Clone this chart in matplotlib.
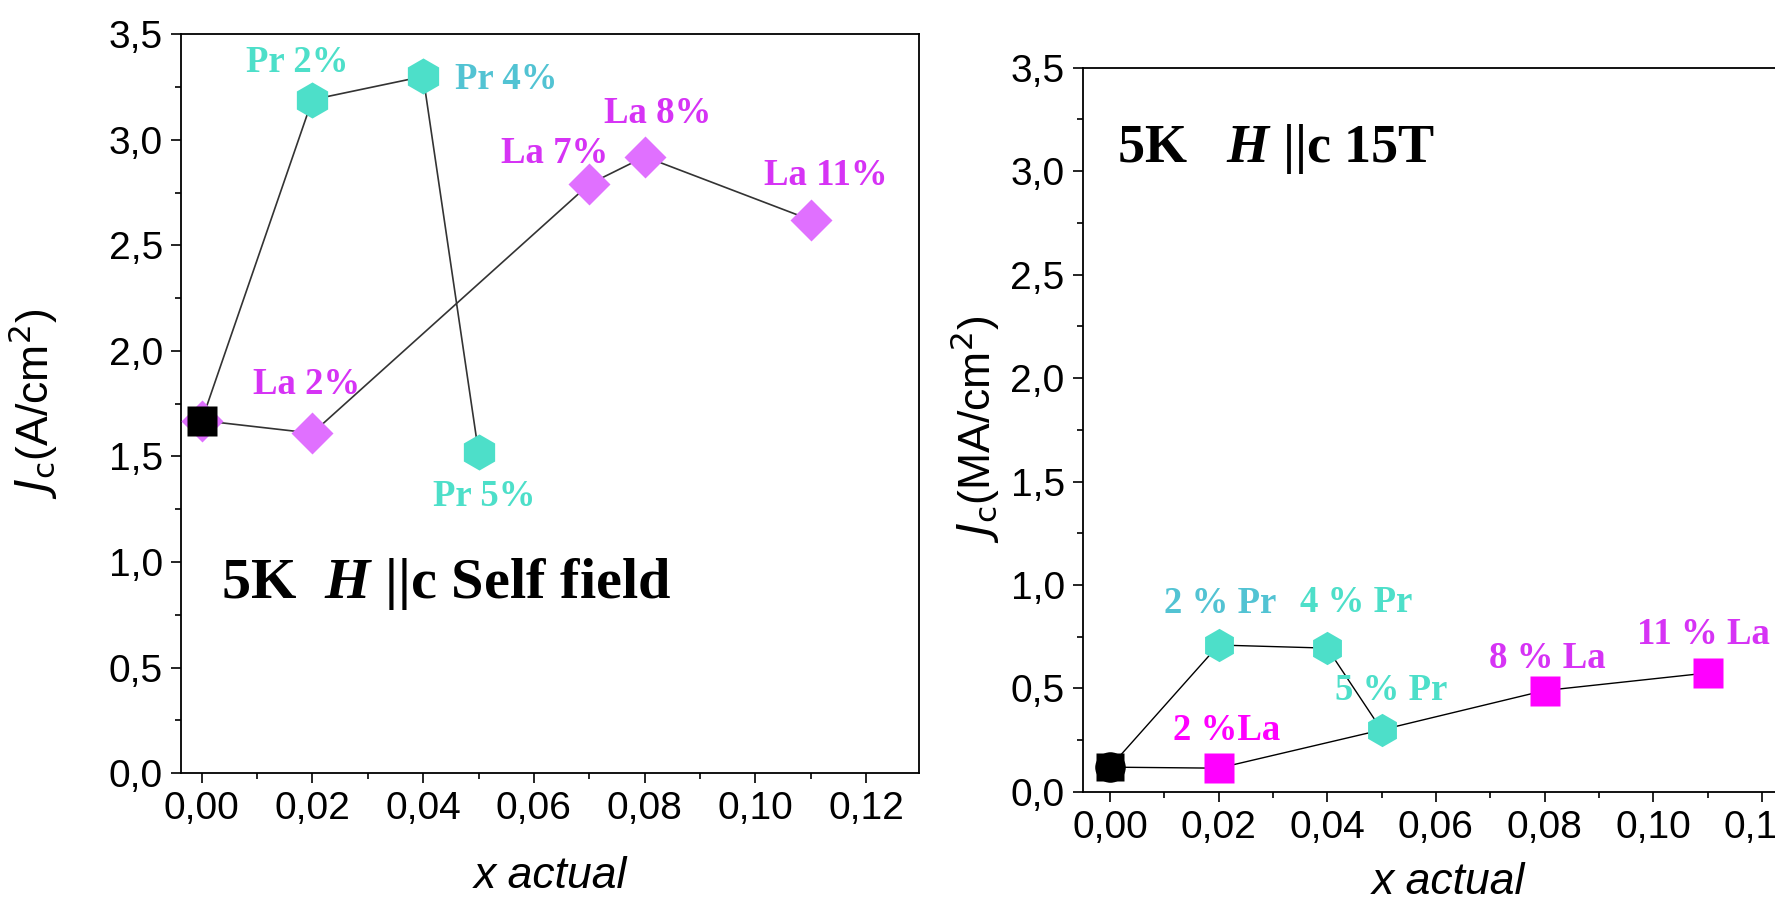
import matplotlib
matplotlib.use('Agg')
import matplotlib.pyplot as plt
from matplotlib.ticker import FuncFormatter, MultipleLocator

plt.rcParams['font.family'] = ['Liberation Sans', 'DejaVu Sans']
plt.rcParams['mathtext.fontset'] = 'custom'
plt.rcParams['mathtext.rm'] = 'Liberation Serif:bold'
plt.rcParams['mathtext.it'] = 'Liberation Serif:bold:italic'

# ---- data: self field (left) ----
ref_x = [0.0]
ref_sf = [1.667]
pr_x_sf = [0.02, 0.04, 0.05]
pr_y_sf = [3.19, 3.30, 1.52]
pr_lab_sf = ['Pr 2%', 'Pr 4%', 'Pr 5%']
la_x_sf = [0.0, 0.02, 0.07, 0.08, 0.11]
la_y_sf = [1.67, 1.61, 2.79, 2.92, 2.62]
la_lab_sf = ['', 'La 2%', 'La 7%', 'La 8%', 'La 11%']

# ---- data: 15 T (right) ----
ref_15 = [0.12]
pr_x_15 = [0.02, 0.04, 0.05]
pr_y_15 = [0.71, 0.695, 0.30]
pr_lab_15 = ['2 % Pr', '4 % Pr', '5 % Pr']
la_x_15 = [0.02, 0.08, 0.11]
la_y_15 = [0.115, 0.49, 0.575]
la_lab_15 = ['2 %La', '8 % La', '11 % La']

TURQ = '#4DDFC9'
TURQ2 = '#52C3D3'
VIOL = '#E070FF'
VIOL_TXT = '#D633F5'
MAG = '#FF00FF'
LINE = '#333333'
SERIF = ['Liberation Serif', 'DejaVu Serif']
LAB_FS = 26.5

fig = plt.figure(figsize=(17.75, 9.01), dpi=100)
ax1 = fig.add_axes([0.102, 0.142, 0.416, 0.820])
ax2 = fig.add_axes([0.610, 0.121, 0.412, 0.804])

def style_axes(ax, xmin):
    ax.set_xlim(xmin, 0.1296)
    ax.set_ylim(0, 3.5)
    ax.xaxis.set_major_locator(MultipleLocator(0.02))
    ax.xaxis.set_minor_locator(MultipleLocator(0.01))
    ax.yaxis.set_major_locator(MultipleLocator(0.5))
    ax.yaxis.set_minor_locator(MultipleLocator(0.25))
    ax.xaxis.set_major_formatter(FuncFormatter(lambda v, p: ('%.2f' % v).replace('.', ',')))
    ax.yaxis.set_major_formatter(FuncFormatter(lambda v, p: ('%.1f' % v).replace('.', ',')))
    ax.tick_params(which='both', direction='out', top=False, right=False, width=1.2,
                   labelsize=28, pad=6)
    ax.tick_params(which='major', length=7)
    ax.tick_params(which='minor', length=4)
    for s in ax.spines.values():
        s.set_linewidth(1.3)
    ax.set_xlabel('x actual', fontsize=32, style='italic')

# ---- left panel ----
ax = ax1
style_axes(ax, -0.0037)
ax.plot(ref_x + pr_x_sf, ref_sf + pr_y_sf, '-', color=LINE, lw=1.2, zorder=1)
ax.plot(la_x_sf, la_y_sf, '-', color=LINE, lw=1.2, zorder=1)
ax.plot(pr_x_sf, pr_y_sf, 'h', ms=26, color=TURQ, mec='none', zorder=3)
ax.plot(la_x_sf, la_y_sf, 'D', ms=21, color=VIOL, mec='none', zorder=3)
ax.plot(ref_x, ref_sf, 's', ms=22, color='black', mec='none', zorder=4)

pr_off_sf = [(-11, 27), (23, -2), (4, -32)]
pr_ha_sf = ['center', 'left', 'center']
pr_col_sf = [TURQ, TURQ2, TURQ]
for x, y, t, o, h, c in zip(pr_x_sf, pr_y_sf, pr_lab_sf, pr_off_sf, pr_ha_sf, pr_col_sf):
    ax.annotate(t, (x, y), xytext=o, textcoords='offset points', ha=h, va='center',
                fontsize=LAB_FS, fontweight='bold', family=SERIF, color=c)
la_off_sf = [(0, 0), (-4, 35), (-25, 22), (9, 31), (11, 32)]
for x, y, t, o in zip(la_x_sf, la_y_sf, la_lab_sf, la_off_sf):
    if t:
        ax.annotate(t, (x, y), xytext=o, textcoords='offset points', ha='center', va='center',
                    fontsize=LAB_FS, fontweight='bold', family=SERIF, color=VIOL_TXT)
ax.text(0.0035, 0.895, r'5K  $H$ ||c Self field', fontsize=42, fontweight='bold',
        family=SERIF, ha='left', va='center')
ax.set_ylabel(r'$J_\mathrm{c}$(A/cm$^2$)', fontsize=32, math_fontfamily='dejavusans')
ax.yaxis.set_label_coords(-0.164, 0.5)
ax.xaxis.set_label_coords(0.5, -0.112)

# ---- right panel ----
ax = ax2
style_axes(ax, -0.005)
ax.plot(ref_x + pr_x_15, ref_15 + pr_y_15, '-', color='black', lw=1.0, zorder=1)
la_line_x = ref_x + la_x_15[:1] + pr_x_15[-1:] + la_x_15[1:]
la_line_y = ref_15 + la_y_15[:1] + pr_y_15[-1:] + la_y_15[1:]
ax.plot(la_line_x, la_line_y, '-', color='black', lw=1.0, zorder=1)
ax.plot(pr_x_15, pr_y_15, 'h', ms=24, color=TURQ, mec='none', zorder=3)
ax.plot(la_x_15, la_y_15, 's', ms=21, color=MAG, mec='none', zorder=3)
ax.plot(ref_x, ref_15, 'o', ms=22, color='black', mec='none', zorder=4)
ax.plot(ref_x, ref_15, 's', ms=20, color='black', mec='none', zorder=4)

pr_off_15 = [(1, 30), (21, 33), (7, 28)]
pr_col_15 = [TURQ2, TURQ, TURQ]
for x, y, t, o, c in zip(pr_x_15, pr_y_15, pr_lab_15, pr_off_15, pr_col_15):
    ax.annotate(t, (x, y), xytext=o, textcoords='offset points', ha='center', va='center',
                fontsize=LAB_FS, fontweight='bold', family=SERIF, color=c)
la_off_15 = [(6, 27), (2, 23), (-3, 28)]
la_col_15 = [MAG, VIOL_TXT, VIOL_TXT]
for x, y, t, o, c in zip(la_x_15, la_y_15, la_lab_15, la_off_15, la_col_15):
    ax.annotate(t, (x, y), xytext=o, textcoords='offset points', ha='center', va='center',
                fontsize=LAB_FS, fontweight='bold', family=SERIF, color=c, annotation_clip=False)
ax.text(0.0013, 3.107, r'5K   $H$ ||c 15T', fontsize=39, fontweight='bold',
        family=SERIF, ha='left', va='center')
ax.set_ylabel(r'$J_\mathrm{c}$(MA/cm$^2$)', fontsize=32, math_fontfamily='dejavusans')
ax.yaxis.set_label_coords(-0.111, 0.5)
ax.xaxis.set_label_coords(0.5, -0.097)

fig.savefig('out.png', dpi=100)
